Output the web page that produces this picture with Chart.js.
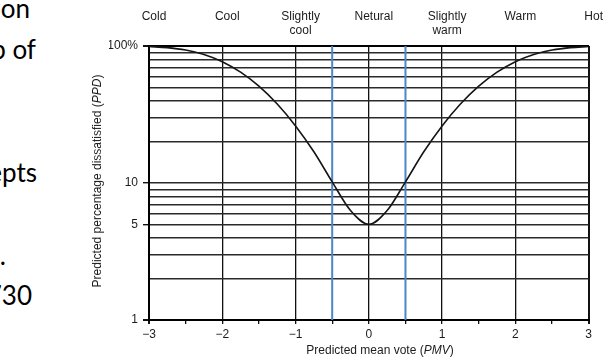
<!DOCTYPE html>
<html>
<head>
<meta charset="utf-8">
<script src="https://cdn.jsdelivr.net/npm/chart.js@4"></script>
<style>
html,body{margin:0;padding:0;background:#fff;overflow:hidden}
#wrap{position:relative;width:606px;height:363px;overflow:hidden}
canvas{position:absolute;left:0;top:0}
.slide{position:absolute;left:-300px;text-align:right;font:26px Lato,sans-serif;color:#000;line-height:30px;white-space:nowrap}
.ax{position:absolute;font:12px "Liberation Sans",Arial,sans-serif;color:#1c1c1c;text-align:center;line-height:14px;height:14px;white-space:nowrap}
</style>
</head>
<body>
<div id="wrap">
  <div class="slide" style="top:-7px;width:330px">on</div>
  <div class="slide" style="top:34px;width:336px">p of</div>
  <div class="slide" style="top:157px;width:337px">epts</div>
  <div class="slide" style="top:240px;width:306px">.</div>
  <div class="slide" style="top:280px;width:332px">730</div>
  <canvas id="chart" width="606" height="363"></canvas>
  <div class="ax" style="left:-33px;top:174px;width:260px;transform:rotate(-90deg)">Predicted percentage dissatisfied (<i>PPD</i>)</div>
  <div class="ax" style="left:230px;top:343px;width:300px">Predicted mean vote (<i>PMV</i>)</div>
</div>
<script>
// curve
const pmv = [-3,-2.75,-2.5,-2.25,-2,-1.75,-1.5,-1.25,-1,-0.75,-0.5,-0.25,0,0.25,0.5,0.75,1,1.25,1.5,1.75,2,2.25,2.5,2.75,3];
const ppd = [99.1,97.3,93.4,86.7,76.8,64.4,50.9,37.7,26.1,16.9,10.2,6.3,5.0,6.3,10.2,16.9,26.1,37.7,50.9,64.4,76.8,86.7,93.4,97.3,99.1];
const comfortLimits = [-0.5, 0.5];

const xTicks = [-3,-2,-1,0,1,2,3];
const xMinorTicks = [-3,-2.5,-2,-1.5,-1,-0.5,0,0.5,1,1.5,2,2.5,3];
const sensationLabels = ['Cold','Cool',['Slightly','cool'],'Netural',['Slightly','warm'],'Warm','Hot'];
const yGrid = [1,2,3,4,5,6,7,8,9,10,20,30,40,50,60,70,80,90,100];
const yLabels = {1:'1',5:'5',10:'10',100:'100%'};

const font = {family:'"Liberation Sans", Arial, sans-serif', size:12};
const txt = '#1c1c1c';

const datasets = [{
  data: pmv.map((x,i)=>({x:x, y:ppd[i]})),
  borderColor:'#151515', borderWidth:1.6, pointRadius:0,
  cubicInterpolationMode:'monotone', fill:false
}];
comfortLimits.forEach(v=>{
  datasets.push({
    data:[{x:v,y:1},{x:v,y:100}],
    borderColor:'#4a86c8', borderWidth:2, pointRadius:0, fill:false
  });
});

const ctx = document.getElementById('chart').getContext('2d');
new Chart(ctx,{
  type:'line',
  data:{datasets:datasets},
  options:{
    responsive:false,
    animation:false,
    layout:{padding:{left:109,right:16,top:0,bottom:0}},
    plugins:{legend:{display:false},tooltip:{enabled:false}},
    scales:{
      x:{
        type:'linear', position:'bottom', min:-3, max:3,
        afterBuildTicks:s=>{ s.ticks = xMinorTicks.map(v=>({value:v})); },
        afterFit:s=>{ s.height = 43; },
        ticks:{autoSkip:false,maxRotation:0,padding:3,color:txt,font:font,
          callback:v=>Number.isInteger(v)?(v<0?'\u2212'+(-v):String(v)):''},
        grid:{
          color:c=>(c.tick && Number.isInteger(c.tick.value))?'#111':'transparent',
          lineWidth:c=>(c.tick && Math.abs(c.tick.value)===3)?2:1.3,
          tickColor:'#111', tickLength:4
        },
        border:{color:'#000',width:2}
      },
      x2:{
        type:'linear', position:'top', min:-3, max:3,
        afterBuildTicks:s=>{ s.ticks = xTicks.map(v=>({value:v})); },
        afterFit:s=>{ s.height = 46; },
        ticks:{autoSkip:false,maxRotation:0,padding:8,labelOffset:5,crossAlign:'far',
          color:txt,font:{family:font.family,size:12,lineHeight:1.17},
          callback:(v,i)=>sensationLabels[i]},
        grid:{display:false,drawTicks:false},
        border:{display:true,color:'#000',width:2}
      },
      y:{
        type:'logarithmic', min:1, max:100,
        afterBuildTicks:s=>{ s.ticks = yGrid.map(v=>({value:v})); },
        afterFit:s=>{ s.width = 40; },
        ticks:{autoSkip:false,padding:5,color:txt,font:font,
          callback:v=>yLabels[v]||''},
        grid:{
          color:'#2a2a2a',
          lineWidth:c=>(c.tick && (c.tick.value===1||c.tick.value===100))?2:1.4,
          tickColor:c=>(c.tick && yLabels[c.tick.value])?'#111':'transparent',
          tickLength:6
        },
        border:{color:'#000',width:2}
      }
    }
  }
});
</script>
</body>
</html>
